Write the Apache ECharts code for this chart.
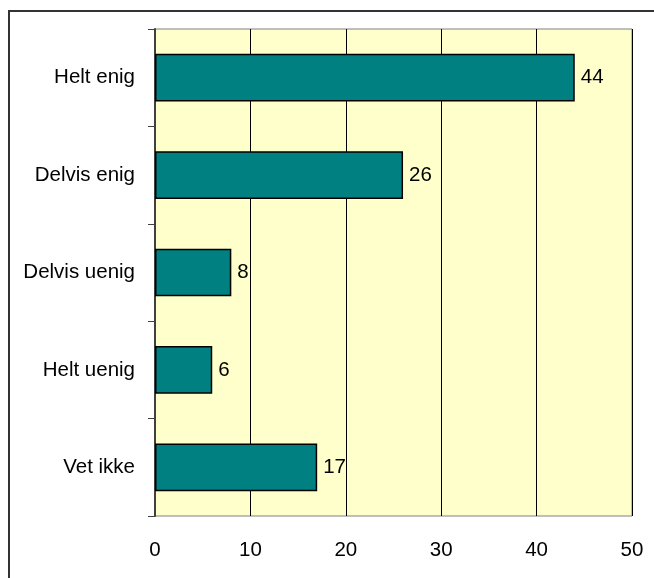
<!DOCTYPE html>
<html>
<head>
<meta charset="utf-8">
<script src="https://cdn.jsdelivr.net/npm/echarts@6/dist/echarts.min.js"></script>
<style>
  html, body { margin: 0; padding: 0; background: #fff; }
  #chart { width: 654px; height: 578px; }
</style>
</head>
<body>
<div id="chart"></div>
<script>
// Survey answers, top to bottom
const categories = ['Helt enig', 'Delvis enig', 'Delvis uenig', 'Helt uenig', 'Vet ikke'];
const values = [44, 26, 8, 6, 17];
const axisMin = 0;
const axisMax = 50;
const axisStep = 10;

const chart = echarts.init(document.getElementById('chart'));
const font = 'Liberation Sans, Arial, sans-serif';
const textSize = 20.5;

chart.setOption({
  animation: false,
  graphic: [{
    type: 'rect',
    shape: { x: 9, y: 11, width: 700, height: 620 },
    style: { fill: 'none', stroke: '#333', lineWidth: 2 },
    z: 0
  }],
  grid: {
    left: 155, top: 29, right: 22, bottom: 62,
    show: true,
    backgroundColor: '#FFFFCC',
    borderColor: '#808080',
    borderWidth: 1
  },
  xAxis: {
    type: 'value',
    min: axisMin, max: axisMax, interval: axisStep,
    axisLine: { show: false },
    axisTick: { show: false },
    splitLine: { show: true, lineStyle: { color: '#000', width: 1 } },
    axisLabel: { color: '#000', fontFamily: font, fontSize: textSize, margin: 24 }
  },
  yAxis: {
    type: 'category',
    data: categories,
    inverse: true,
    axisLine: { show: true, lineStyle: { color: '#404040', width: 2 } },
    axisTick: { show: true, inside: false, length: 7, lineStyle: { color: '#404040', width: 1 } },
    axisLabel: { color: '#000', fontFamily: font, fontSize: textSize, margin: 20 }
  },
  series: [{
    type: 'bar',
    data: values,
    barWidth: '49%',
    itemStyle: { color: '#008080', borderColor: '#000', borderWidth: 1.5 },
    label: {
      show: true, position: 'right', distance: 6,
      color: '#000', fontFamily: font, fontSize: textSize
    }
  }]
});
</script>
</body>
</html>
